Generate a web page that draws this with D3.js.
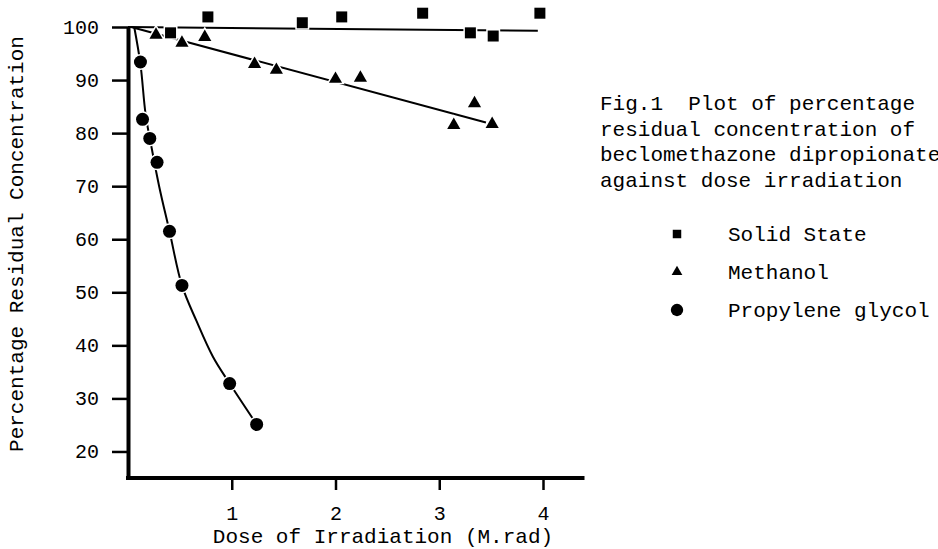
<!DOCTYPE html>
<html>
<head>
<meta charset="utf-8">
<script src="https://cdn.jsdelivr.net/npm/d3@7"></script>
<style>
  body { margin: 0; background: #fff; }
  svg { display: block; }
  text { font-family: "Liberation Mono", "Courier New", monospace; fill: #000; }
</style>
</head>
<body>
<svg id="chart" width="938" height="549"></svg>
<script>
// values
var solidDose = [0.41, 0.77, 1.68, 2.06, 2.84, 3.30, 3.52, 3.97];
var solidConc = [98.9, 101.9, 100.8, 101.9, 102.6, 98.9, 98.3, 102.6];

var methDose = [0.27, 0.52, 0.74, 1.22, 1.43, 2.00, 2.24, 3.14, 3.34, 3.51];
var methConc = [98.5, 97.0, 98.1, 93.0, 91.9, 90.2, 90.4, 81.5, 85.6, 81.7];

var propDose = [0.12, 0.14, 0.21, 0.28, 0.40, 0.52, 0.98, 1.24];
var propConc = [93.4, 82.6, 79.0, 74.5, 61.5, 51.3, 32.8, 25.1];

// lines as drawn through the points
var solidLineDose = [0, 3.95];
var solidLineConc = [100, 99.3];
var methLineDose = [0.03, 3.45];
var methLineConc = [100, 82.0];
var propLineDose = [0.06, 0.12, 0.17, 0.23, 0.30, 0.40, 0.52, 0.66, 0.82, 0.98, 1.24];
var propLineConc = [100, 93.0, 83.5, 77.0, 70.0, 61.5, 51.3, 44.6, 37.8, 32.8, 25.1];

var xTicks = [1, 2, 3, 4];
var yTicks = [20, 30, 40, 50, 60, 70, 80, 90, 100];

var caption = ["Fig.1  Plot of percentage",
               "residual concentration of",
               "beclomethazone dipropionate",
               "against dose irradiation"];
var legendNames = ["Solid State", "Methanol", "Propylene glycol"];
var legendShapes = ["square", "triangle", "circle"];

var svg = d3.select("#chart");

var x = d3.scaleLinear().domain([0, 4.4]).range([128, 584.5]);
var y = d3.scaleLinear().domain([15, 100]).range([478, 27]);

function zip(a, b) {
  return a.map(function(d, i) { return [d, b[i]]; });
}

// AXES
var yAxis = svg.append("g")
  .attr("transform", "translate(" + x(0) + ",0)")
  .call(d3.axisLeft(y).tickValues(yTicks).tickSize(16).tickSizeOuter(0).tickPadding(13));
var xAxis = svg.append("g")
  .attr("transform", "translate(0," + y(15) + ")")
  .call(d3.axisBottom(x).tickValues(xTicks).tickSize(12).tickSizeOuter(0).tickPadding(16)
    .tickFormat(d3.format("d")));

[yAxis, xAxis].forEach(function(ax) {
  ax.select(".domain").attr("stroke", "#000").attr("stroke-width", 4);
  ax.selectAll(".tick line").attr("stroke", "#000").attr("stroke-width", 2.5);
  ax.selectAll(".tick text")
    .style("font-family", "'Liberation Mono', monospace")
    .style("font-size", "20px")
    .attr("fill", "#000");
});
xAxis.select(".domain").attr("d", "M" + (x(0) - 2) + ",0H" + x(4.4));

// axis titles
svg.append("text")
  .attr("x", 383).attr("y", 543)
  .attr("text-anchor", "middle")
  .style("font-size", "21px")
  .text("Dose of Irradiation (M.rad)");

svg.append("text")
  .attr("transform", "translate(16,244) rotate(-90)")
  .attr("text-anchor", "middle")
  .attr("dy", "0.35em")
  .style("font-size", "21px")
  .text("Percentage Residual Concentration");

// LINES
var straight = d3.line().x(function(d) { return x(d[0]); }).y(function(d) { return y(d[1]); });
var smooth = d3.line().x(function(d) { return x(d[0]); }).y(function(d) { return y(d[1]); })
  .curve(d3.curveCatmullRom.alpha(0.5));

svg.append("path").datum(zip(solidLineDose, solidLineConc))
  .attr("d", straight).attr("fill", "none").attr("stroke", "#000").attr("stroke-width", 2);
svg.append("path").datum(zip(methLineDose, methLineConc))
  .attr("d", straight).attr("fill", "none").attr("stroke", "#000").attr("stroke-width", 2);
svg.append("path").datum(zip(propLineDose, propLineConc))
  .attr("d", smooth).attr("fill", "none").attr("stroke", "#000").attr("stroke-width", 2);

// MARKERS (white halo breaks the lines like the print)
var symSize = { square: 121, triangle: 75, circle: 133 };
var symType = { square: d3.symbolSquare, triangle: d3.symbolTriangle, circle: d3.symbolCircle };

function drawMarkers(dose, conc, shape) {
  svg.append("g").selectAll("path")
    .data(zip(dose, conc))
    .enter().append("path")
    .attr("transform", function(d) { return "translate(" + x(d[0]) + "," + y(d[1]) + ")"; })
    .attr("d", d3.symbol().type(symType[shape]).size(symSize[shape]))
    .attr("fill", "#000")
    .attr("stroke", "#fff")
    .attr("stroke-width", 3)
    .attr("paint-order", "stroke");
}
drawMarkers(solidDose, solidConc, "square");
drawMarkers(methDose, methConc, "triangle");
drawMarkers(propDose, propConc, "circle");

// CAPTION
svg.append("g").selectAll("text")
  .data(caption)
  .enter().append("text")
  .attr("x", 600)
  .attr("y", function(d, i) { return 110 + i * 25.7; })
  .style("font-size", "21px")
  .style("white-space", "pre")
  .text(function(d) { return d; });

// LEGEND
var legendSize = { square: 72, triangle: 50, circle: 120 };
var legend = svg.append("g").selectAll("g")
  .data(legendNames)
  .enter().append("g")
  .attr("transform", function(d, i) { return "translate(0," + (234 + i * 38) + ")"; });

legend.append("path")
  .attr("transform", "translate(677,0)")
  .attr("d", function(d, i) {
    var s = legendShapes[i];
    return d3.symbol().type(symType[s]).size(legendSize[s])();
  })
  .attr("fill", "#000");

legend.append("text")
  .attr("x", 728)
  .attr("dy", "0.32em")
  .style("font-size", "21px")
  .text(function(d) { return d; });
</script>
</body>
</html>
